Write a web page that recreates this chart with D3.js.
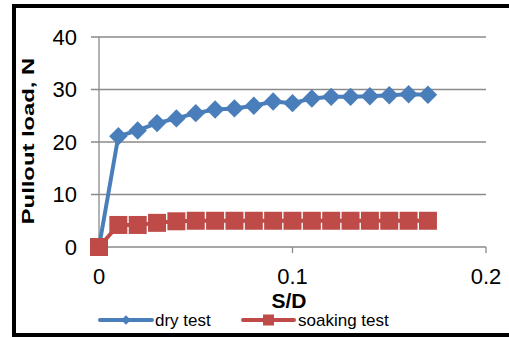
<!DOCTYPE html>
<html>
<head>
<meta charset="utf-8">
<script src="https://cdn.jsdelivr.net/npm/d3@7"></script>
<style>
  body { margin: 0; background: #fff; }
  svg { display: block; font-family: "Liberation Sans", Arial, sans-serif; }
</style>
</head>
<body>
<div id="chart"></div>
<script>
// S/D values, shared by both series
var sd = [0, 0.01, 0.02, 0.03, 0.04, 0.05, 0.06, 0.07, 0.08, 0.09,
          0.10, 0.11, 0.12, 0.13, 0.14, 0.15, 0.16, 0.17];
var dryTest = [0, 21.1, 22.2, 23.6, 24.5, 25.5, 26.2, 26.4, 26.9, 27.7,
               27.4, 28.3, 28.6, 28.6, 28.7, 28.9, 29.1, 29.0];
var soakingTest = [0, 4.2, 4.2, 4.6, 4.9, 5.0, 5.0, 5.0, 5.0, 5.0,
                   5.0, 5.0, 5.0, 5.0, 5.0, 5.0, 5.0, 5.0];
var xTicks = [0, 0.1, 0.2];
var yTicks = [0, 10, 20, 30, 40];
var seriesNames = ["dry test", "soaking test"];

var width = 509, height = 338;
var blue = "#4a7ebb", red = "#be4b48", grid = "#8a8a8a";

var svg = d3.select("#chart").append("svg")
    .attr("width", width)
    .attr("height", height);

var x = d3.scaleLinear().domain([0, 0.2]).range([99, 486]);
var y = d3.scaleLinear().domain([0, 40]).range([247, 37]);

// gridlines + y ticks
svg.append("g")
    .selectAll("line")
    .data(yTicks)
    .enter().append("line")
    .attr("x1", x(0) - 8)
    .attr("x2", x(0.2))
    .attr("y1", function(d) { return y(d); })
    .attr("y2", function(d) { return y(d); })
    .attr("stroke", grid)
    .attr("stroke-width", 1.3);

// y axis line
svg.append("line")
    .attr("x1", x(0)).attr("x2", x(0))
    .attr("y1", y(40)).attr("y2", y(0))
    .attr("stroke", grid).attr("stroke-width", 1.3);

// x tick marks
svg.append("g")
    .selectAll("line")
    .data(xTicks)
    .enter().append("line")
    .attr("x1", function(d) { return x(d); })
    .attr("x2", function(d) { return x(d); })
    .attr("y1", y(0))
    .attr("y2", y(0) + 6)
    .attr("stroke", grid)
    .attr("stroke-width", 1.3);

// tick labels
svg.append("g")
    .selectAll("text")
    .data(yTicks)
    .enter().append("text")
    .attr("x", 77)
    .attr("y", function(d) { return y(d); })
    .attr("dy", "0.36em")
    .attr("text-anchor", "end")
    .attr("font-size", 22)
    .text(function(d) { return d; });

svg.append("g")
    .selectAll("text")
    .data(xTicks)
    .enter().append("text")
    .attr("x", function(d) { return x(d); })
    .attr("y", 284)
    .attr("text-anchor", "middle")
    .attr("font-size", 22)
    .text(function(d) { return d; });

// axis titles (y title is stretched along its length like the original)
svg.append("text")
    .attr("transform", "translate(34,141) rotate(-90) scale(1.4,1)")
    .attr("text-anchor", "middle")
    .attr("font-size", 17)
    .attr("font-weight", "bold")
    .text("Pullout load, N");

svg.append("text")
    .attr("x", 289)
    .attr("y", 308)
    .attr("text-anchor", "middle")
    .attr("font-size", 21)
    .attr("font-weight", "bold")
    .text("S/D");

var line = d3.line()
    .x(function(d, i) { return x(sd[i]); })
    .y(function(d) { return y(d); });

var diamond = d3.symbol().type(d3.symbolSquare).size(170);
var square = d3.symbol().type(d3.symbolSquare).size(324);

// soaking test
svg.append("path")
    .datum(soakingTest)
    .attr("d", line)
    .attr("fill", "none")
    .attr("stroke", red)
    .attr("stroke-width", 4);

// dry test
svg.append("path")
    .datum(dryTest)
    .attr("d", line)
    .attr("fill", "none")
    .attr("stroke", blue)
    .attr("stroke-width", 4);

svg.append("g")
    .selectAll("path")
    .data(dryTest)
    .enter().append("path")
    .attr("d", diamond)
    .attr("transform", function(d, i) { return "translate(" + x(sd[i]) + "," + y(d) + ") rotate(45)"; })
    .attr("fill", blue);

svg.append("g")
    .selectAll("path")
    .data(soakingTest)
    .enter().append("path")
    .attr("d", square)
    .attr("transform", function(d, i) { return "translate(" + x(sd[i]) + "," + y(d) + ")"; })
    .attr("fill", red);

// legend
var legend = [
    {name: seriesNames[0], color: blue, x0: 100, x1: 152, tx: 155, sym: d3.symbol().type(d3.symbolSquare).size(45), rot: 45},
    {name: seriesNames[1], color: red, x0: 243, x1: 294, tx: 298, sym: d3.symbol().type(d3.symbolSquare).size(121), rot: 0}
];
var lg = svg.append("g").selectAll("g")
    .data(legend)
    .enter().append("g");
lg.append("line")
    .attr("x1", function(d) { return d.x0; })
    .attr("x2", function(d) { return d.x1; })
    .attr("y1", 320).attr("y2", 320)
    .attr("stroke", function(d) { return d.color; })
    .attr("stroke-width", 4)
    .attr("stroke-linecap", "round");
lg.append("path")
    .attr("d", function(d) { return d.sym(); })
    .attr("transform", function(d) { return "translate(" + (d.x0 + d.x1) / 2 + ",320) rotate(" + d.rot + ")"; })
    .attr("fill", function(d) { return d.color; });
lg.append("text")
    .attr("x", function(d) { return d.tx; })
    .attr("y", 326)
    .attr("font-size", 17)
    .text(function(d) { return d.name; });

// outer frame (right edge falls outside the picture)
svg.append("rect")
    .attr("x", 14)
    .attr("y", 6)
    .attr("width", 520)
    .attr("height", 329)
    .attr("fill", "none")
    .attr("stroke", "#000")
    .attr("stroke-width", 4);
</script>
</body>
</html>
